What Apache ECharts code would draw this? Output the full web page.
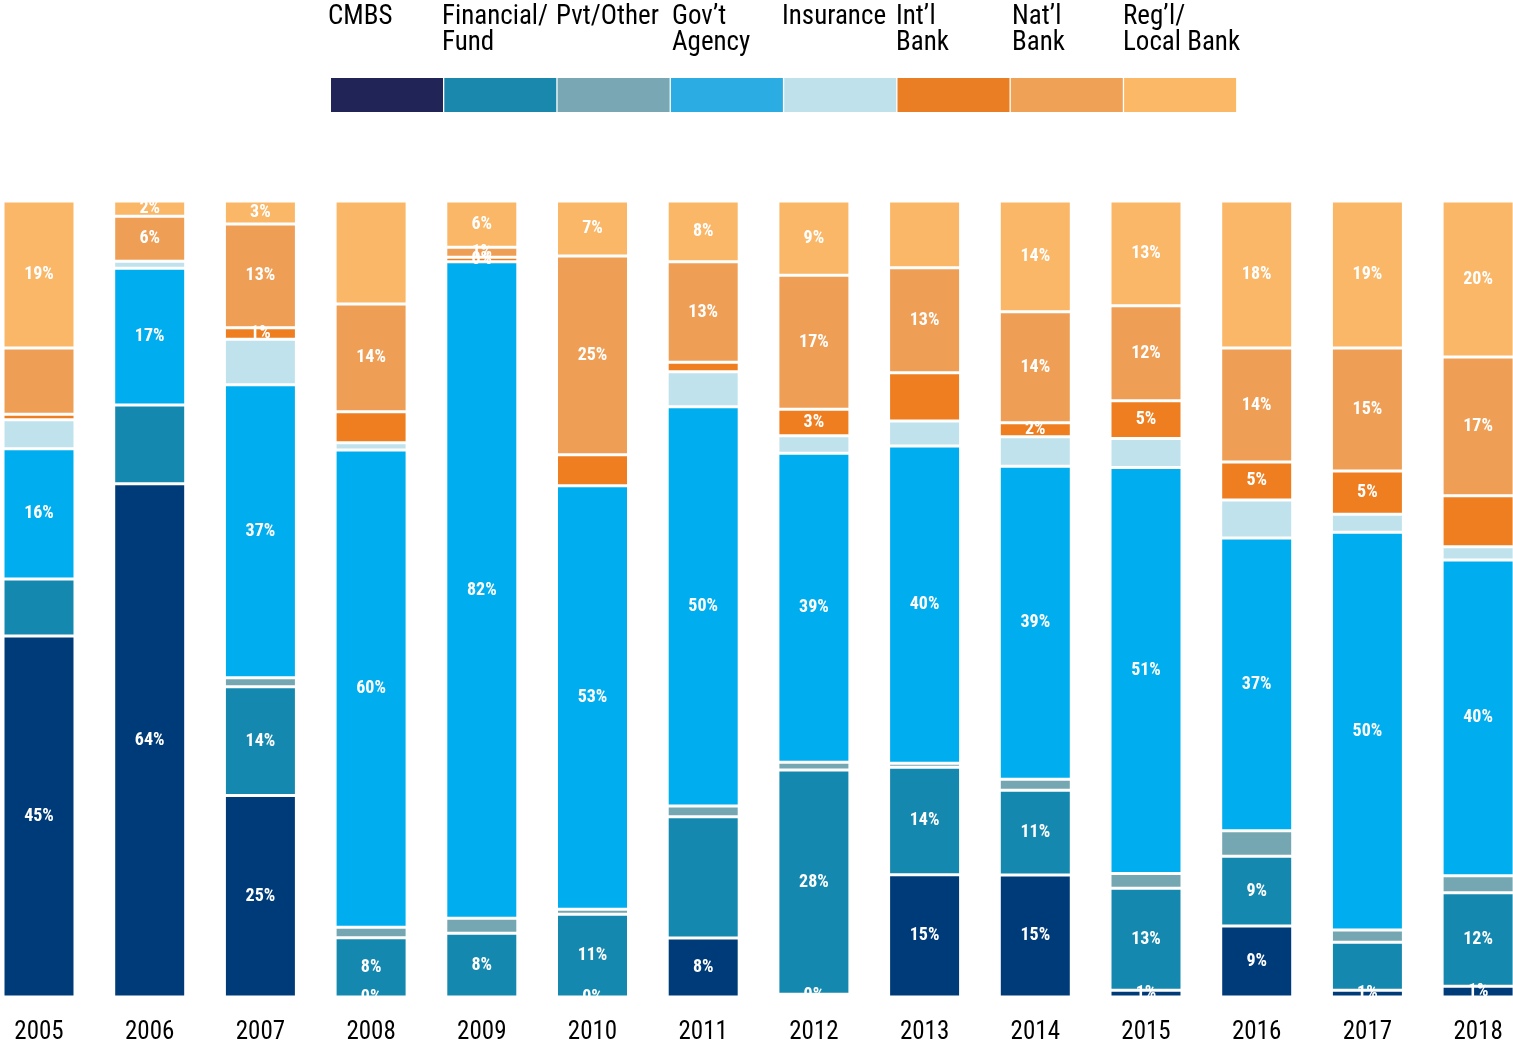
<!DOCTYPE html>
<html><head><meta charset="utf-8">
<script src="https://cdn.jsdelivr.net/npm/echarts@6/dist/echarts.min.js"></script>
<style>html,body{margin:0;padding:0;background:#fff}#c{width:1513px;height:1044px}</style>
</head><body><div id="c"></div>
<script>
// ---- data (percent share of each lender type per year, bottom to top) ----
const years = ['2005','2006','2007','2008','2009','2010','2011','2012','2013','2014','2015','2016','2017','2018'];
const seriesNames = ['CMBS','Financial/ Fund','Pvt/Other',"Gov\u2019t Agency",'Insurance',"Int\u2019l Bank","Nat\u2019l Bank","Reg\u2019l/ Local Bank"];
const legendText = ['CMBS','Financial/\nFund','Pvt/Other',"Gov\u2019t\nAgency",'Insurance',"Int\u2019l\nBank","Nat\u2019l\nBank","Reg\u2019l/\nLocal Bank"];

const cmbs      = [45.35, 64.49, 25.31, 0,     0,     0,     7.41,  0.34,  15.37, 15.33, 0.84,  8.92,  0.84,  1.34];
const financial = [7.16,  9.89,  13.67, 7.45,  8.00,  10.39, 15.24, 28.18, 13.49, 10.64, 12.81, 8.76,  6.03,  11.76];
const pvtOther  = [0,     0,     1.12,  1.31,  1.88,  0.63,  1.34,  0.97,  0.50,  1.38,  1.88,  3.22,  1.55,  2.14];
const govAgency = [16.37, 17.17, 36.83, 59.96, 82.49, 53.22, 50.16, 38.82, 39.86, 39.32, 50.98, 36.77, 49.96, 39.66];
const insurance = [3.64,  0.88,  5.70,  0.92,  0,     0,     4.40,  2.21,  3.14,  3.72,  3.64,  4.77,  2.26,  1.67];
const intlBank  = [0.69,  0,     1.44,  3.89,  0.55,  3.89,  1.18,  3.32,  6.07,  1.76,  4.77,  4.77,  5.44,  6.41];
const natlBank  = [8.32,  5.65,  13.04, 13.53, 1.26,  24.96, 12.64, 16.83, 13.19, 13.94, 11.93, 14.32, 15.45, 17.42];
const reglBank  = [18.47, 1.92,  2.89,  12.94, 5.82,  6.91,  7.63,  9.33,  8.38,  13.91, 13.15, 18.47, 18.47, 19.60];

// printed segment labels as shown in the source ('' = no label)
const cmbsLabels      = ['45%','64%','25%','0%','','0%','8%','0%','15%','15%','1%','9%','1%','1%'];
const financialLabels = ['','','14%','8%','8%','11%','','28%','14%','11%','13%','9%','','12%'];
const pvtOtherLabels  = ['','','','','','','','','','','','','',''];
const govAgencyLabels = ['16%','17%','37%','60%','82%','53%','50%','39%','40%','39%','51%','37%','50%','40%'];
const insuranceLabels = ['','','','','','','','','','','','','',''];
const intlBankLabels  = ['','','1%','','0%','','','3%','','2%','5%','5%','5%',''];
const natlBankLabels  = ['','6%','13%','14%','1%','25%','13%','17%','13%','14%','12%','14%','15%','17%'];
const reglBankLabels  = ['19%','2%','3%','','6%','7%','8%','9%','','14%','13%','18%','19%','20%'];

const seriesValues = [cmbs, financial, pvtOther, govAgency, insurance, intlBank, natlBank, reglBank];
const seriesLabels = [cmbsLabels, financialLabels, pvtOtherLabels, govAgencyLabels, insuranceLabels, intlBankLabels, natlBankLabels, reglBankLabels];

const barColors    = ['#003B79','#1488AE','#74A7B2','#00AEEF','#C0E2EC','#EE7E1F','#EF9F55','#FAB767'];
const legendColors = ['#202457','#1A87AD','#79A8B4','#2BACE2','#BFE1EC','#E97E24','#EFA155','#FBB866'];
const legendTextLeft = [329, 443, 557, 673, 783, 897, 1013, 1124];

const FONT = "'Roboto Condensed', 'Open Sans Condensed', 'DejaVu Sans Condensed', sans-serif";

const chart = echarts.init(document.getElementById('c'), null, {renderer: 'canvas'});

const series = seriesNames.map((name, i) => ({
  name: name, type: 'bar', stack: 'total', barWidth: 72,
  data: seriesValues[i],
  itemStyle: {color: barColors[i], borderColor: '#ffffff', borderWidth: 1.5},
  label: {
    show: true, position: 'inside', color: '#ffffff',
    fontFamily: FONT, fontWeight: 'bold', fontSize: 18,
    formatter: (p) => seriesLabels[i][p.dataIndex]
  },
  emphasis: {disabled: true}
}));

const textLegends = seriesNames.map((n, i) => ({
  left: legendTextLeft[i] - 6, top: 4, padding: 0,
  itemWidth: 0, itemHeight: 0, itemGap: 0,
  selectedMode: false,
  itemStyle: {opacity: 0, borderWidth: 0},
  textStyle: {color: '#000', fontFamily: FONT, fontSize: 27, lineHeight: 26},
  formatter: () => legendText[i],
  data: [n]
}));

chart.setOption({
  animation: false,
  backgroundColor: '#ffffff',
  grid: {left: -16.35, right: -20.45, top: 201, bottom: 47, containLabel: false, outerBoundsMode: 'none'},
  legend: [{
    left: 331, top: 78, padding: 0,
    itemWidth: 112, itemHeight: 34, itemGap: 1.3,
    icon: 'rect', selectedMode: false,
    formatter: () => '',
    itemStyle: {borderWidth: 0},
    data: seriesNames.map((n, i) => ({name: n, itemStyle: {color: legendColors[i], borderWidth: 0}}))
  }].concat(textLegends),
  xAxis: {
    type: 'category', data: years,
    axisLine: {show: false}, axisTick: {show: false},
    axisLabel: {color: '#000', fontFamily: FONT, fontSize: 25, margin: 23}
  },
  yAxis: {type: 'value', min: 0, max: 100, show: false, splitLine: {show: false}},
  series: series
});

// white mask just below the baseline: labels of zero/near-zero bottom segments appear clipped, as in the source
const yBase = chart.convertToPixel({yAxisIndex: 0}, 0);
chart.setOption({
  graphic: [{type: 'rect', silent: true, z: 100, shape: {x: 0, y: yBase + 0.8, width: 1513, height: 12}, style: {fill: '#ffffff'}}]
});
</script>
</body></html>
